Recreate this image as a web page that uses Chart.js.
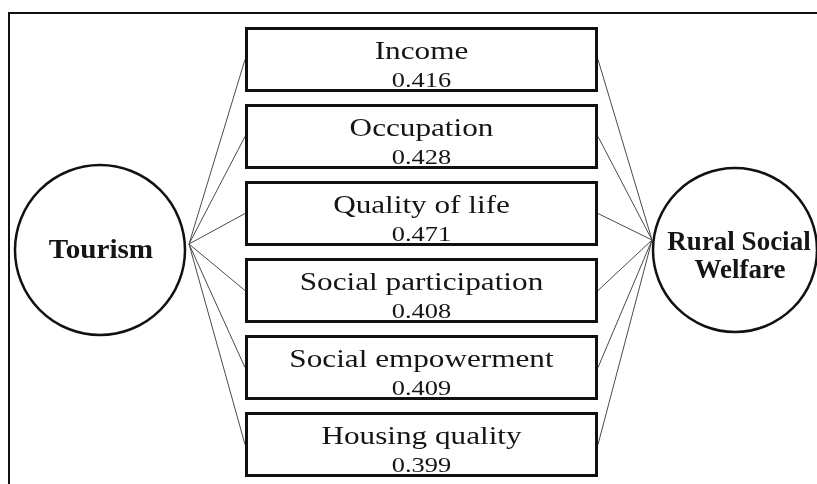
<!DOCTYPE html>
<html>
<head>
<meta charset="utf-8">
<script src="https://cdn.jsdelivr.net/npm/chart.js@4.4.0/dist/chart.umd.min.js"></script>
<style>
  html, body { margin: 0; padding: 0; background: #ffffff; }
  #wrap { width: 817px; height: 484px; position: relative; }
</style>
</head>
<body>
<div id="wrap"><canvas id="c"></canvas></div>
<script>
// ---- data ----
const categories = ['Income', 'Occupation', 'Quality of life', 'Social participation', 'Social empowerment', 'Housing quality'];
const loadings = [0.416, 0.428, 0.471, 0.408, 0.409, 0.399];
const sourceLabel = ['Tourism'];
const targetLabel = ['Rural Social', 'Welfare'];

// ---- layout (pixel space of the hidden linear scales) ----
const layout = {
  boxLeft: 245, boxRight: 598, firstRowY: 59.5, rowStep: 77, boxHeight: 65, boxStroke: 3,
  src: { x: 100, y: 250, r: 85 }, tgt: { x: 735, y: 250, r: 82 },
  srcAnchor: { x: 189, y: 244 }, tgtAnchor: { x: 652, y: 240 },
  frame: { x: 9, y: 13 }
};
const rowY = i => layout.firstRowY + i * layout.rowStep;

const datasets = [];

// frame
datasets.push({
  type: 'line', order: 50,
  data: [{ x: layout.frame.x, y: 500 }, { x: layout.frame.x, y: layout.frame.y }, { x: 830, y: layout.frame.y }],
  borderColor: '#111', borderWidth: 2, pointRadius: 0, fill: false, tension: 0, clip: false,
  borderJoinStyle: 'miter'
});

// connectors
categories.forEach((c, i) => {
  datasets.push({
    type: 'line', order: 40,
    data: [{ x: layout.srcAnchor.x, y: layout.srcAnchor.y }, { x: layout.boxLeft, y: rowY(i) }],
    borderColor: '#4a4a4a', borderWidth: 1, pointRadius: 0, fill: false, tension: 0
  });
  datasets.push({
    type: 'line', order: 40,
    data: [{ x: layout.boxRight, y: rowY(i) }, { x: layout.tgtAnchor.x, y: layout.tgtAnchor.y }],
    borderColor: '#4a4a4a', borderWidth: 1, pointRadius: 0, fill: false, tension: 0
  });
});

// boxes
const h = layout.boxStroke / 2;
categories.forEach((c, i) => {
  const top = rowY(i) - layout.boxHeight / 2 + h, bot = rowY(i) + layout.boxHeight / 2 - h;
  const L = layout.boxLeft + h, R = layout.boxRight - h;
  datasets.push({
    type: 'line', order: 30, label: c,
    data: [{ x: L, y: top }, { x: R, y: top }, { x: R, y: bot }, { x: L, y: bot }, { x: L, y: top }],
    borderColor: '#111', borderWidth: layout.boxStroke, pointRadius: 0, fill: false, tension: 0,
    borderJoinStyle: 'miter', borderCapStyle: 'square'
  });
});

// circles (latent variables)
datasets.push({
  type: 'scatter', order: 20,
  data: [{ x: layout.src.x, y: layout.src.y }, { x: layout.tgt.x, y: layout.tgt.y }],
  pointRadius: [layout.src.r, layout.tgt.r], pointHoverRadius: [layout.src.r, layout.tgt.r],
  pointStyle: 'circle', backgroundColor: '#ffffff', borderColor: '#111', borderWidth: 2.5,
  clip: false
});

const textPlugin = {
  id: 'diagramText',
  afterDatasetsDraw(chart) {
    const ctx = chart.ctx, xs = chart.scales.x, ys = chart.scales.y;
    const drawText = (txt, x, y, font, sx) => {
      ctx.save();
      ctx.translate(x, y);
      ctx.scale(sx, 1);
      ctx.font = font;
      ctx.fillStyle = '#151515';
      ctx.textAlign = 'center';
      ctx.textBaseline = 'alphabetic';
      ctx.fillText(txt, 0, 0);
      ctx.restore();
    };
    const cx = xs.getPixelForValue((layout.boxLeft + layout.boxRight) / 2);
    categories.forEach((c, i) => {
      const top = rowY(i) - layout.boxHeight / 2;
      drawText(c, cx, ys.getPixelForValue(top + 32), '26px "Liberation Serif", "Times New Roman", serif', 1.2);
      drawText(loadings[i].toFixed(3), cx, ys.getPixelForValue(top + 60), '22px "Liberation Serif", "Times New Roman", serif', 1.2);
    });
    drawText(sourceLabel[0], xs.getPixelForValue(layout.src.x + 1), ys.getPixelForValue(layout.src.y + 8),
      'bold 27px "Liberation Serif", "Times New Roman", serif', 1.08);
    drawText(targetLabel[0], xs.getPixelForValue(layout.tgt.x + 4), ys.getPixelForValue(layout.tgt.y),
      'bold 27px "Liberation Serif", "Times New Roman", serif', 1.0);
    drawText(targetLabel[1], xs.getPixelForValue(layout.tgt.x + 5), ys.getPixelForValue(layout.tgt.y + 28),
      'bold 27px "Liberation Serif", "Times New Roman", serif', 1.0);
  }
};

new Chart(document.getElementById('c'), {
  type: 'scatter',
  data: { datasets },
  options: {
    responsive: true, maintainAspectRatio: false, animation: false, events: [],
    layout: { padding: 0, autoPadding: false },
    plugins: { legend: { display: false }, tooltip: { enabled: false }, title: { display: false } },
    scales: {
      x: { type: 'linear', min: 0, max: 817, display: false },
      y: { type: 'linear', min: 0, max: 484, reverse: true, display: false }
    }
  },
  plugins: [textPlugin]
});
</script>
</body>
</html>
